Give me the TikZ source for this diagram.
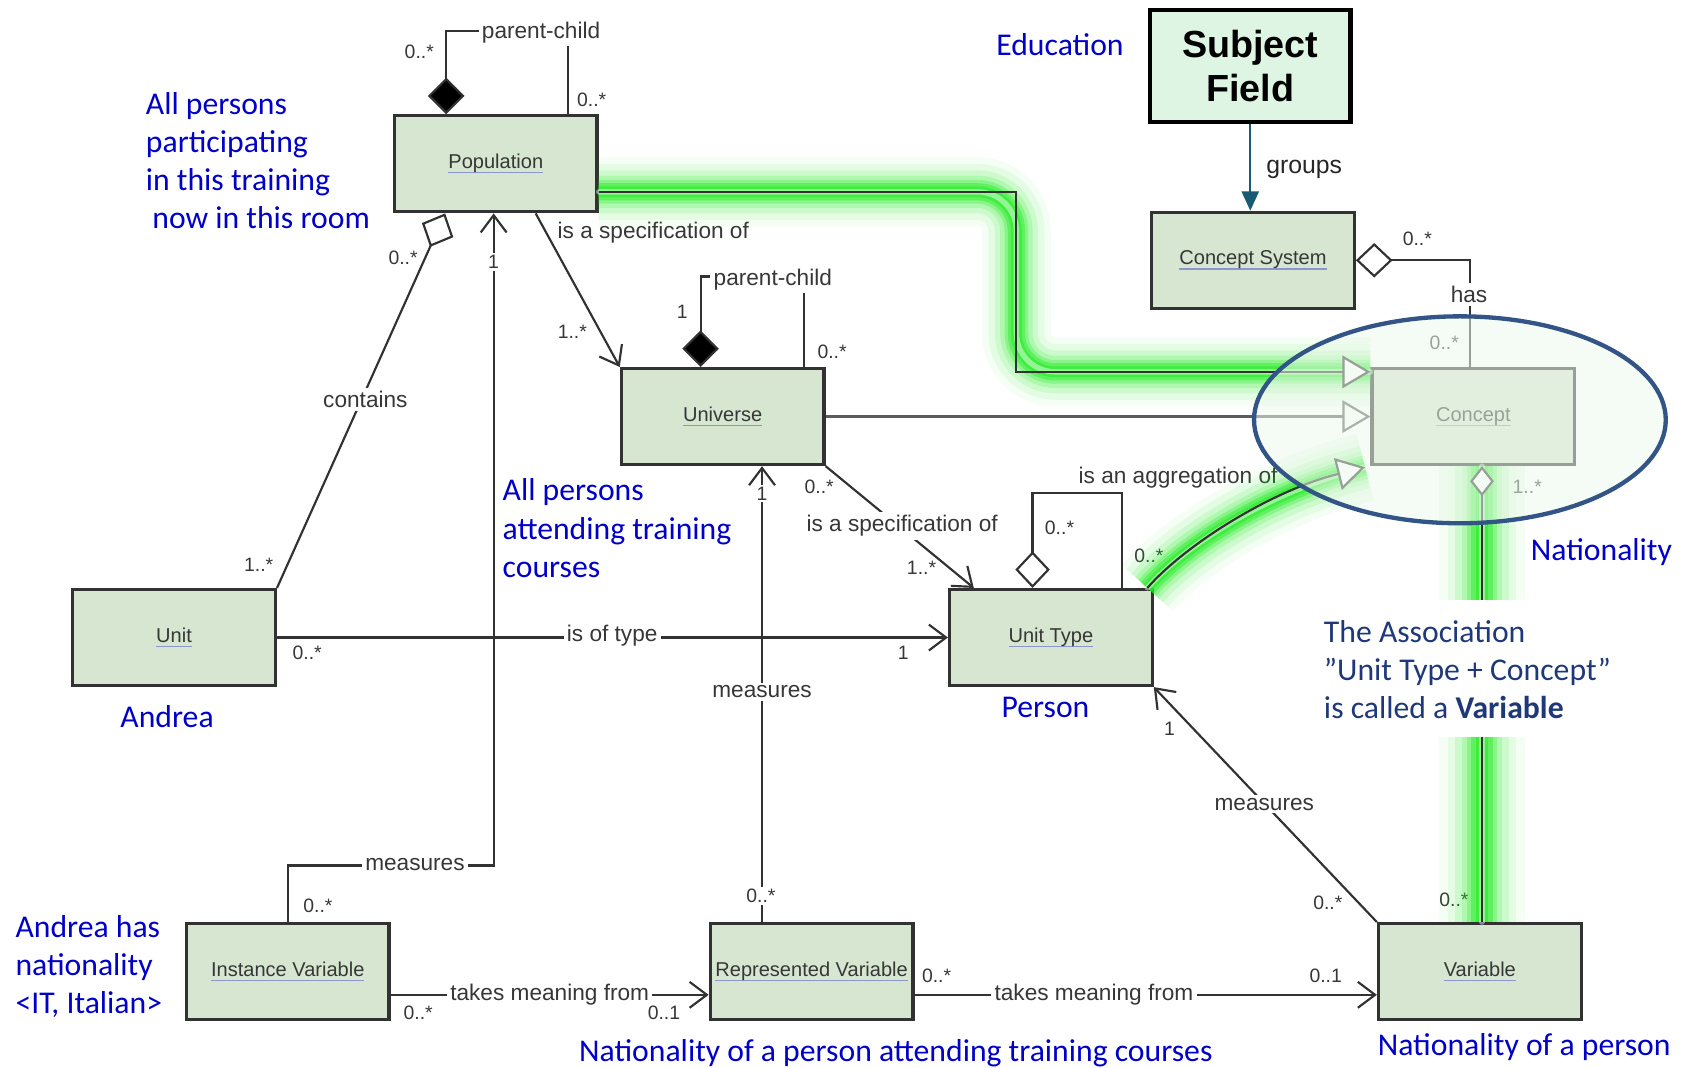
\documentclass[tikz,border=0pt]{standalone}
\usepackage{fontspec}
\setmainfont{Liberation Sans}
\newfontfamily\calib{Carlito}
\usetikzlibrary{arrows.meta,calc}

\definecolor{boxfill}{RGB}{214,230,208}
\definecolor{boxline}{RGB}{50,50,50}
\definecolor{lbl}{RGB}{55,55,55}
\definecolor{noteblue}{RGB}{0,0,200}
\definecolor{navy}{RGB}{31,56,120}
\definecolor{ring}{RGB}{50,84,134}
\definecolor{glow}{RGB}{40,235,40}
\definecolor{teal}{RGB}{25,90,115}
\definecolor{sfill}{RGB}{222,245,228}
\definecolor{ulc}{RGB}{140,150,205}
\definecolor{ellfill}{RGB}{236,248,236}

% class name with a faint underline
\newcommand\ulname[1]{\setbox0=\hbox{#1}\rlap{\textcolor{ulc}{\rule[-2.2pt]{\wd0}{0.55pt}}}\box0}

\begin{document}
\begin{tikzpicture}[x=0.5pt,y=-0.5pt,
  cls/.style={draw=boxline, line width=1.5pt, fill=boxfill, minimum width=94pt,
    minimum height=44.5pt, inner sep=0pt, text=lbl, font=\fontsize{9.3}{11}\selectfont},
  note/.style={font=\calib\fontsize{14.7}{17.65}\selectfont, text=noteblue, inner sep=0pt, align=left},
  lab/.style={font=\fontsize{10.5}{12}\selectfont, text=lbl, inner sep=1.5pt},
  mult/.style={font=\fontsize{9}{11}\selectfont, text=lbl, inner sep=1pt},
  assoc/.style={draw=boxline, line width=1pt},
  nav/.style={-{Straight Barb[length=8pt,width=12pt]}},
  gen/.style={-{Triangle[length=13pt,width=15pt,fill=white]}},
  comp/.style={{Diamond[length=17pt,width=17pt,fill=black]}-},
  agg/.style={{Diamond[length=17pt,width=16pt,fill=white]}-},
  glowline/.style={line cap=round, line join=round, rounded corners=18pt,
    preaction={draw=glow, line width=32pt, draw opacity=0.05},
    preaction={draw=glow, line width=26pt, draw opacity=0.08},
    preaction={draw=glow, line width=20pt, draw opacity=0.12},
    preaction={draw=glow, line width=15pt, draw opacity=0.18},
    preaction={draw=glow, line width=11pt, draw opacity=0.28},
    preaction={draw=glow, line width=8pt, draw opacity=0.45},
    preaction={draw=glow, line width=5pt, draw opacity=0.6},
    draw=white, line width=2.5pt, draw opacity=0.45},
  glowwide/.style={line cap=round,
    preaction={draw=glow, line width=40pt, draw opacity=0.05},
    preaction={draw=glow, line width=32pt, draw opacity=0.08},
    preaction={draw=glow, line width=25pt, draw opacity=0.12},
    preaction={draw=glow, line width=19pt, draw opacity=0.18},
    preaction={draw=glow, line width=14pt, draw opacity=0.28},
    preaction={draw=glow, line width=10pt, draw opacity=0.45},
    preaction={draw=glow, line width=6pt, draw opacity=0.6},
    draw=white, line width=2.5pt, draw opacity=0.45}]

\useasboundingbox (0,0) rectangle (1568,990);

% ---------- classes ----------
\node[cls] (pop)     at (460,152)    {\ulname{Population}};
\node[draw=black, line width=2pt, fill=sfill, minimum width=93pt, minimum height=52pt,
      align=center, font=\bfseries\fontsize{17.5}{20.5}\selectfont] (subj) at (1160,61) {Subject\\Field};
\node[cls] (csys)    at (1162.5,241.5) {\ulname{Concept System}};
\node[cls] (univ)    at (670.5,386.5)  {\ulname{Universe}};
\node[cls] (concept) at (1367,386.5)   {\ulname{Concept}};
\node[cls] (unit)    at (161.5,591.5)  {\ulname{Unit}};
\node[cls] (utype)   at (975,591.5)    {\ulname{Unit Type}};
\node[cls] (ivar)    at (267,901.5)    {\ulname{Instance Variable}};
\node[cls] (rvar)    at (753,901.5)    {\ulname{Represented Variable}};
\node[cls] (var)     at (1373,901.5)   {\ulname{Variable}};

% ---------- associations ----------
% Population parent-child
\draw[assoc, comp] ($(pop.north)+(-46,0)$) |- ($(pop.north)+(67,-77)$) -- ($(pop.north)+(67,0)$);
\node[lab, fill=white] (pcA) at (502,30) {parent-child};
\node[mult] (mA1) at (389,48) {0..*};
\node[mult] (mA2) at (549,93) {0..*};

% Population contains Unit
\draw[assoc, agg] ($(pop.south)+(-47,0)$) -- (unit.north east);
\node[lab, fill=white] (contains) at (339,371) {contains};
\node[mult] (mB1) at (374,239) {0..*};
\node[mult] (mB2) at (240,524) {1..*};

% Instance Variable measures Population
\draw[assoc, nav] (ivar.north) |- ($(pop.south)+(-2,605)$) -- ($(pop.south)+(-2,0)$);
\node[lab, fill=white] (measA) at (385,802) {measures};
\node[mult] (mC1) at (295,840) {0..*};
\node[mult, fill=white] (mC2) at (458,243) {1};

% Population is a specification of Universe
\draw[assoc, nav] ($(pop.south)+(37,0)$) -- (univ.north west);
\node[lab, anchor=west] (specA) at (514,216) {is a specification of};
\node[mult] (mD1) at (531,308) {1..*};

% Universe parent-child
\draw[assoc, comp] ($(univ.north)+(-20.5,0)$) |- ($(univ.north)+(75.5,-84)$) -- ($(univ.north)+(75.5,0)$);
\node[lab, fill=white] (pcB) at (717,259) {parent-child};
\node[mult] (mE1) at (633,289) {1};
\node[mult] (mE2) at (772,326) {0..*};

% Universe specialises Concept
\draw[assoc, draw=boxline!80, gen] (univ.east) -- (concept.west);

% Represented Variable measures Universe
\draw[assoc, nav] ($(rvar.north)+(-46,0)$) -- ($(univ.south)+(36.5,0)$);
\node[mult, fill=white] (mF1) at (707,458) {1};
\node[lab, fill=white] (measB) at (707,642) {measures};
\node[mult, fill=white] (mF2) at (706,831) {0..*};

% Universe is a specification of Unit Type
\draw[assoc, nav] (univ.south east) -- ($(utype.north west)+(24,0)$);
\node[lab, fill=white] (specB) at (837,488) {is a specification of};
\node[mult] (mG1) at (760,452) {0..*};
\node[mult] (mG2) at (855,527) {1..*};

% Unit Type aggregation
\draw[assoc, agg] ($(utype.north)+(-17,0)$) |- ($(utype.north)+(66,-88)$) -- ($(utype.north)+(66,0)$);
\node[lab] (aggr) at (1093,443) {is an aggregation of};
\node[mult] (mH1) at (983,490) {0..*};
\node[mult] (mH2) at (1066,516) {0..*};

% Unit is of type Unit Type
\draw[assoc, nav] (unit.east) -- (utype.west);
\node[lab, fill=white] (oftype) at (568,590) {is of type};
\node[mult] (mI1) at (285,606) {0..*};
\node[mult] (mI2) at (838,606) {1};

% Variable measures Unit Type
\draw[assoc, nav] (var.north west) -- (utype.south east);
\node[mult] (mJ1) at (1085,676) {1};
\node[lab, fill=white] (measC) at (1173,746) {measures};
\node[mult] (mJ2) at (1232,838) {0..*};

% takes meaning from
\draw[assoc, nav] ($(ivar.east)+(0,21.5)$) -- ($(rvar.west)+(0,21.5)$);
\node[lab, fill=white] (tmA) at (510,923) {takes meaning from};
\node[mult] (mK1) at (388,940) {0..*};
\node[mult] (mK2) at (616,940) {0..1};

\draw[assoc, nav] ($(rvar.east)+(0,21.5)$) -- ($(var.west)+(0,21.5)$);
\node[lab, fill=white] (tmB) at (1015,923) {takes meaning from};
\node[mult] (mL1) at (869,905) {0..*};
\node[mult] (mL2) at (1230,905) {0..1};

% Concept System has Concept
\draw[assoc, agg] (csys.east) -| ($(concept.north)+(-3,0)$);
\node[mult] (mM1) at (1315,222) {0..*};
\node[lab, fill=white] (has) at (1363,273) {has};
\node[mult] (mM2) at (1340,318) {0..*};
\node[mult] (mN1) at (1417,452) {1..*};
\node[mult] (mN2) at (1349,835) {0..*};

% Subject Field groups Concept System
\draw[teal, line width=0.9pt, -{Triangle[length=9pt,width=8pt]}] (subj.south) -- ($(csys.north)+(-2.5,0)$);
\node[font=\fontsize{11.5}{13}\selectfont, text=black!85] (groups) at (1210,157) {groups};

% ---------- highlighted paths ----------
\coordinate (kA) at (943,178);
\coordinate (kB) at (943,345);
\draw[glowline] ($(pop.east)+(0,26)$) -- (kA) -- (kB) -- ($(concept.west)+(0,-41.5)$);
\draw[assoc, gen] ($(pop.east)+(0,26)$) -- (kA) -- (kB) -- ($(concept.west)+(0,-41.5)$);

\draw[glowline] ($(utype.north east)+(-6,0)$) .. controls (1100,505) and (1180,455) .. ($(concept.south west)+(-5,1)$);
\draw[assoc, gen] ($(utype.north east)+(-6,0)$) .. controls (1100,505) and (1180,455) .. ($(concept.south west)+(-5,1)$);

\draw[glowwide] ($(concept.south)+(8,0)$) -- ($(var.north)+(2,0)$);
\draw[assoc, {Diamond[length=14pt,width=11pt,fill=white]}-] ($(concept.south)+(8,0)$) -- ($(var.north)+(2,0)$);

% ---------- ring round Concept ----------
\fill[ellfill, fill opacity=0.55] (1354.5,389.5) ellipse [x radius=191, y radius=96];
\draw[ring, line width=2pt] (1354.5,389.5) ellipse [x radius=191, y radius=96];

% ---------- notes ----------
\fill[white] (1213,557) rectangle (1508,684);
\node[note, text=navy, anchor=north west] (assocnote) at (1228,575)
  {The Association\\ ”Unit Type + Concept”\\ is called a \textbf{Variable}};

\node[note, anchor=west] (edu) at (924,41) {Education};
\node[note, anchor=north west] (allroom) at (135,85)
  {All persons\\ participating\\ in this training\\ \hspace*{3pt}now in this room};
\node[note, anchor=north west] (allcourse) at (466,444)
  {All persons\\ attending training\\ courses};
\node[note] (andrea) at (155,665) {Andrea};
\node[note] (person) at (970,656) {Person};
\node[note, anchor=west] (nat) at (1420,512) {Nationality};
\node[note, anchor=north west] (andreahas) at (14,849)
  {Andrea has\\ nationality\\ <IT, Italian>};
\node[note, anchor=west] (natcourse) at (537,977) {Nationality of a person attending training courses};
\node[note, anchor=west] (natperson) at (1278,971) {Nationality of a person};

\end{tikzpicture}
\end{document}
